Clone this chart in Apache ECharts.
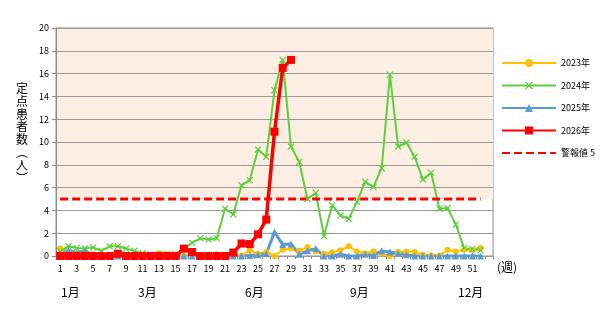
<!DOCTYPE html>
<html>
<head>
<meta charset="utf-8">
<title>定点患者数</title>
<script src="https://cdn.jsdelivr.net/npm/echarts@6/dist/echarts.min.js"></script>
<style type="text/css">
body{ margin:0; background:#fff; }
#chart{ width:606px; height:311px; }
</style>
</head>
<body>
<div id="chart"></div>
<script>
// weeks 1..52 plus an empty 53rd slot like the original sheet
var weeks = ['1','2','3','4','5','6','7','8','9','10','11','12','13','14','15','16','17','18','19','20',
    '21','22','23','24','25','26','27','28','29','30','31','32','33','34','35','36','37','38','39','40',
    '41','42','43','44','45','46','47','48','49','50','51','52',''];

var y2023 = [0.65,0.35,0.2,0.2,0.15,0.1,0.05,0.05,0.05,0.05,0.05,0.05,0.25,0.15,0.1,0.05,0,0.05,0.1,0.15,
    0.1,0.05,0.05,0.5,0.2,0.35,0,0.55,0.65,0.45,0.8,0.4,0.2,0.3,0.5,0.85,0.4,0.25,0.4,0.2,
    0,0.35,0.4,0.35,0.1,0.05,0.05,0.55,0.4,0.55,0.5,0.7];
var y2024 = [0.4,0.85,0.7,0.65,0.75,0.45,0.85,0.85,0.65,0.45,0.25,0.15,0.15,0.15,0.15,0.65,1.15,1.55,1.45,1.55,
    4.15,3.65,6.2,6.65,9.35,8.7,14.55,17.2,9.6,8.25,5.0,5.55,1.75,4.45,3.55,3.25,4.75,6.5,6.05,7.7,
    15.9,9.6,9.95,8.7,6.7,7.3,4.15,4.2,2.75,0.7,0.6,0.5];
var y2025 = [0.15,0.5,0.3,0.45,0.1,0.1,0.05,0,0,0,0,0,0,0,0,0,0,0,0,0,
    0,0,0,0.05,0.1,0.2,2.1,1.0,1.05,0.15,0.45,0.65,0,0,0.15,0,0,0.15,0.05,0.45,
    0.35,0.25,0.1,0,0,0,0,0,0,0,0,0];
var y2026 = [0,0,0,0,0,0,0,0.2,0,0,0,0,0,0,0,0.65,0.35,0,0,0,
    0,0.3,1.1,1.05,1.9,3.2,10.9,16.5,17.2];
var warning = [5,5,5,5,5,5,5,5,5,5,5,5,5,5,5,5,5,5,5,5,5,5,5,5,5,5,
    5,5,5,5,5,5,5,5,5,5,5,5,5,5,5,5,5,5,5,5,5,5,5,5,5,5];
var seriesNames = ['2023年','2024年','2025年','2026年','警報値 5'];
var months = ['1月','3月','6月','9月','12月'];

var font = "'Noto Sans CJK JP', sans-serif";
var crossIcon = 'path://M0,1.2L1.2,0L5,3.8L8.8,0L10,1.2L6.2,5L10,8.8L8.8,10L5,6.2L1.2,10L0,8.8L3.8,5Z';

var chart = echarts.init(document.getElementById('chart'));

var monthX = [69, 146, 253, 358, 469];
var graphics = months.map(function(m, i){
    return {
        type: 'text', left: monthX[i] - (m.length > 2 ? 11 : 8), top: 286,
        style: { text: m, fontSize: 12, fontFamily: font, fill: '#000' }
    };
});
graphics.push({
    type: 'text', left: 16, top: 82,
    style: { text: '定\n点\n患\n者\n数\n︵\n人\n︶', fontSize: 12, lineHeight: 12.8,
             fontFamily: font, fill: '#000', align: 'left' }
});
graphics.push({
    type: 'text', left: 497, top: 261,
    style: { text: '(週)', fontSize: 12, fontFamily: font, fill: '#000' }
});

var legendData = seriesNames.map(function(n, i){
    // the alert line has no marker in the legend
    return i === 4 ? { name: n, itemStyle: { opacity: 0 } } : { name: n };
});

var option = {
    animation: false,
    textStyle: { fontFamily: font },
    grid: { left: 56, right: 113, top: 28, bottom: 55, show: true,
            borderColor: '#8c8c8c', borderWidth: 1 },
    legend: {
        data: legendData,
        orient: 'vertical',
        left: 501, top: 58.5, padding: 0,
        itemWidth: 54, itemHeight: 10, itemGap: 13.5,
        textStyle: { fontSize: 9, color: '#000', fontFamily: font }
    },
    graphic: graphics,
    xAxis: {
        type: 'category',
        data: weeks,
        boundaryGap: true,
        axisLine: { lineStyle: { color: '#8c8c8c' } },
        axisTick: { show: true, interval: 0, length: 3, lineStyle: { color: '#8c8c8c' } },
        axisLabel: { interval: 1, fontSize: 9, color: '#000', margin: 8 }
    },
    yAxis: {
        type: 'value',
        min: 0, max: 20, interval: 2,
        z: 1.5,
        axisLine: { show: true, lineStyle: { color: '#8c8c8c' } },
        axisTick: { show: true, length: 4, lineStyle: { color: '#8c8c8c' } },
        splitLine: { lineStyle: { color: '#9a9a9a' } },
        axisLabel: { fontSize: 9, color: '#000', margin: 7 }
    },
    series: [
        {
            // pink band above the alert level
            type: 'line', data: [], silent: true, z: 0,
            markArea: { silent: true, z: 0, itemStyle: { color: '#fdeee4' },
                data: [[{ yAxis: 5 }, { yAxis: 20 }]] }
        },
        {
            name: seriesNames[0], type: 'line', data: y2023, showAllSymbol: true,
            color: '#ffc000', symbol: 'circle', symbolSize: 6,
            lineStyle: { width: 2 }
        },
        {
            name: seriesNames[1], type: 'line', data: y2024, showAllSymbol: true,
            color: '#5dce3c', symbol: crossIcon, symbolSize: 7,
            lineStyle: { width: 2 }
        },
        {
            name: seriesNames[2], type: 'line', data: y2025, showAllSymbol: true,
            color: '#5b9bd5', symbol: 'triangle', symbolSize: 7,
            lineStyle: { width: 3 }
        },
        {
            name: seriesNames[3], type: 'line', data: y2026, showAllSymbol: true,
            color: '#ff0000', symbol: 'rect', symbolSize: 8,
            lineStyle: { width: 3.5 }
        },
        {
            name: seriesNames[4], type: 'line', data: warning,
            color: '#ff0000', symbol: 'none',
            lineStyle: { width: 3, type: [8, 4] }
        }
    ]
};
chart.setOption(option);
</script>
</body>
</html>
